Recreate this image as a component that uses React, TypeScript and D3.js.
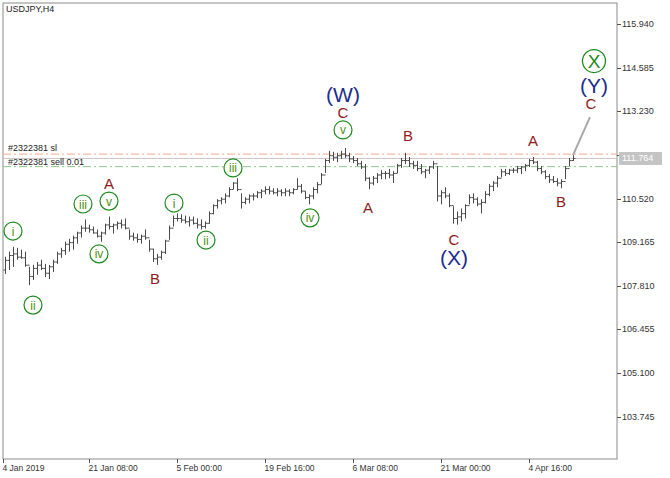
import React, { useEffect } from "react";
import * as d3 from "d3";

// USDJPY H4 (one bar per ~4px of the original)
const highs = [
  108.71, 108.87, 109.02, 108.99, 108.93, 108.87, 108.40, 108.46, 108.55, 108.62,
  108.49, 108.46, 108.62, 108.87, 108.99, 109.18, 109.27, 109.37, 109.49, 109.68,
  109.87, 109.71, 109.65, 109.56, 109.49, 109.74, 109.96, 109.74, 109.81, 109.87,
  109.90, 109.56, 109.46, 109.43, 109.40, 109.56, 109.24, 108.96, 108.80, 108.90,
  109.24, 109.68, 109.99, 110.06, 110.03, 109.99, 109.96, 109.96, 109.90, 109.87,
  109.81, 110.12, 110.34, 110.50, 110.56, 110.68, 110.87, 111.03, 111.15, 110.68,
  110.56, 110.65, 110.68, 110.75, 110.81, 110.90, 110.90, 110.84, 110.84, 110.81,
  110.84, 110.81, 110.84, 111.15, 110.97, 110.75, 110.65, 110.87, 111.03, 111.31,
  111.75, 112.00, 111.97, 111.94, 112.00, 112.09, 111.94, 111.84, 111.78, 111.69,
  111.59, 111.18, 111.22, 111.31, 111.40, 111.37, 111.44, 111.37, 111.59, 111.78,
  111.94, 111.81, 111.69, 111.69, 111.59, 111.44, 111.53, 111.69, 111.53, 110.78,
  110.87, 110.68, 110.28, 110.12, 110.21, 110.34, 110.65, 110.68, 110.56, 110.50,
  110.75, 110.97, 111.06, 111.22, 111.44, 111.44, 111.44, 111.47, 111.53, 111.53,
  111.59, 111.75, 111.81, 111.69, 111.53, 111.40, 111.28, 111.22, 111.15, 111.12,
  111.53, 111.78, 111.87,
];
const lows = [
  108.18, 108.30, 108.40, 108.62, 108.65, 108.40, 107.83, 107.99, 108.15, 108.30,
  108.08, 108.02, 108.24, 108.49, 108.68, 108.77, 108.87, 108.93, 109.12, 109.31,
  109.49, 109.46, 109.43, 109.31, 109.18, 109.40, 109.56, 109.43, 109.56, 109.59,
  109.56, 109.24, 109.21, 109.15, 109.12, 109.24, 108.87, 108.55, 108.46, 108.62,
  108.80, 109.24, 109.65, 109.81, 109.77, 109.74, 109.65, 109.71, 109.59, 109.56,
  109.59, 109.74, 110.03, 110.21, 110.34, 110.37, 110.56, 110.81, 110.75, 110.21,
  110.34, 110.37, 110.46, 110.53, 110.53, 110.65, 110.65, 110.65, 110.59, 110.59,
  110.59, 110.59, 110.65, 110.81, 110.68, 110.50, 110.34, 110.50, 110.68, 110.97,
  111.31, 111.62, 111.69, 111.65, 111.75, 111.78, 111.65, 111.62, 111.53, 111.44,
  111.06, 110.81, 110.93, 111.00, 111.12, 111.12, 111.15, 111.00, 111.31, 111.47,
  111.59, 111.50, 111.44, 111.37, 111.28, 111.15, 111.28, 111.44, 110.43, 110.34,
  110.53, 110.25, 109.74, 109.71, 109.81, 109.90, 110.34, 110.37, 110.28, 110.06,
  110.37, 110.59, 110.75, 110.87, 111.18, 111.22, 111.25, 111.31, 111.31, 111.28,
  111.37, 111.50, 111.59, 111.37, 111.28, 111.12, 111.00, 111.00, 110.90, 110.84,
  111.12, 111.53, 111.69,
];
const closes = [
  108.60, 108.75, 108.80, 108.70, 108.68, 108.45, 108.10, 108.35, 108.45, 108.35,
  108.20, 108.40, 108.55, 108.80, 108.90, 109.10, 109.15, 109.30, 109.45, 109.60,
  109.60, 109.55, 109.45, 109.35, 109.45, 109.70, 109.65, 109.70, 109.75, 109.70,
  109.60, 109.35, 109.30, 109.25, 109.35, 109.30, 108.95, 108.65, 108.70, 108.85,
  109.20, 109.60, 109.90, 109.90, 109.85, 109.80, 109.85, 109.75, 109.70, 109.65,
  109.75, 110.05, 110.30, 110.45, 110.50, 110.60, 110.80, 111.00, 110.80, 110.40,
  110.50, 110.60, 110.60, 110.70, 110.75, 110.80, 110.75, 110.70, 110.75, 110.70,
  110.75, 110.70, 110.80, 110.90, 110.75, 110.55, 110.60, 110.80, 110.95, 111.25,
  111.70, 111.85, 111.80, 111.85, 111.90, 111.85, 111.75, 111.70, 111.60, 111.50,
  111.15, 111.00, 111.15, 111.25, 111.30, 111.30, 111.25, 111.30, 111.55, 111.70,
  111.70, 111.60, 111.55, 111.45, 111.35, 111.40, 111.50, 111.60, 110.60, 110.70,
  110.60, 110.30, 109.90, 109.95, 110.05, 110.30, 110.55, 110.50, 110.35, 110.40,
  110.65, 110.90, 111.00, 111.15, 111.35, 111.30, 111.40, 111.40, 111.45, 111.50,
  111.55, 111.70, 111.65, 111.45, 111.35, 111.20, 111.10, 111.05, 111.00, 111.05,
  111.45, 111.70, 111.764,
];
const firstOpen = 108.3;

const priceTicks = [115.94, 114.585, 113.23, 111.875, 110.52, 109.165, 107.81, 106.455, 105.1, 103.745];
const timeTickBars = [-0.5, 21, 43, 65, 87, 109, 131];
const timeTickLabels = ["4 Jan 2019", "21 Jan 08:00", "5 Feb 00:00", "19 Feb 16:00", "6 Mar 08:00", "21 Mar 00:00", "4 Apr 16:00"];

const bidPrice = 111.764;
const slPrice = 111.9;
const sellPrice = 111.51;

// projection of the last leg
const projection = [
  [142, 111.87],
  [146.25, 113.05],
];

// wave labels: [text, bar, price, kind]
const waveLabels: [string, number, number, string][] = [
  ["i", 2, 109.51, "minor"],
  ["ii", 7, 107.21, "minor"],
  ["iii", 19.5, 110.35, "minor"],
  ["iv", 23.5, 108.8, "minor"],
  ["v", 26, 110.44, "minor"],
  ["A", 26, 111.0, "abc"],
  ["B", 37.5, 108.05, "abc"],
  ["i", 42.25, 110.38, "minor"],
  ["ii", 50.25, 109.23, "minor"],
  ["iii", 57, 111.47, "minor"],
  ["iv", 76.25, 109.92, "minor"],
  ["v", 84.5, 112.65, "minor"],
  ["C", 84.5, 113.19, "abc"],
  ["(W)", 84.5, 113.75, "major"],
  ["A", 90.75, 110.23, "abc"],
  ["B", 100.75, 112.49, "abc"],
  ["C", 112.25, 109.26, "abc"],
  ["(X)", 112.25, 108.7, "major"],
  ["A", 132, 112.31, "abc"],
  ["B", 139, 110.44, "abc"],
  ["C", 146.5, 113.47, "abc"],
  ["(Y)", 147.25, 114.03, "major"],
  ["X", 147.25, 114.79, "circle"],
];

const W = 670;
const H = 478;
const plot = { left: 3, top: 3, right: 617, bottom: 459 };
const font = "'Liberation Sans', Arial, sans-serif";

export default function App() {
  useEffect(() => {
    document.body.style.margin = "0";
  }, []);

  const x = d3.scaleLinear().domain([0, highs.length - 1]).range([5, 573]);
  const y = d3.scaleLinear().domain([103.745, 115.94]).range([416.7, 24]);

  const projLine = d3
    .line<number[]>()
    .x((d) => x(d[0]))
    .y((d) => y(d[1]))(projection);

  const green = "#1f8a1f";
  const red = "#8e1b1b";
  const navy = "#1c2d8c";

  return (
    <svg width={W} height={H} style={{ display: "block", background: "#fff" }} fontFamily={font}>
      <rect x={plot.left} y={plot.top} width={plot.right - plot.left} height={plot.bottom - plot.top} fill="none" stroke="#8a8a8a" />
      <text x={6} y={12} fontSize={9} fill="#222">USDJPY,H4</text>

      {/* order lines */}
      <line x1={plot.left} x2={plot.right} y1={y(slPrice)} y2={y(slPrice)} stroke="#f4a98a" strokeDasharray="8,3,2,3" />
      <line x1={plot.left} x2={plot.right} y1={y(bidPrice)} y2={y(bidPrice)} stroke="#c8c8c8" />
      <line x1={plot.left} x2={plot.right} y1={y(sellPrice)} y2={y(sellPrice)} stroke="#8cc78c" strokeDasharray="8,3,2,3" />
      <text x={8} y={y(slPrice) - 3} fontSize={9} fill="#222">#2322381 sl</text>
      <text x={8} y={y(sellPrice) - 2} fontSize={9} fill="#222">#2322381 sell 0.01</text>

      {/* bars */}
      <g stroke="#4a4a4a" strokeWidth={1}>
        {highs.map((h, i) => {
          const cx = Math.round(x(i)) + 0.5;
          const open = i === 0 ? firstOpen : closes[i - 1];
          return (
            <g key={i}>
              <line x1={cx} x2={cx} y1={y(h)} y2={y(lows[i])} />
              <line x1={cx - 2} x2={cx} y1={y(open)} y2={y(open)} />
              <line x1={cx} x2={cx + 2} y1={y(closes[i])} y2={y(closes[i])} />
            </g>
          );
        })}
      </g>

      <path d={projLine ?? ""} stroke="#a8a8a8" strokeWidth={2} fill="none" />

      {/* wave labels */}
      {waveLabels.map(([t, b, p, kind], i) => {
        const lx = x(b);
        const ly = y(p);
        if (kind === "minor") {
          return (
            <g key={i}>
              <circle cx={lx} cy={ly} r={9} fill="#fff" stroke={green} strokeWidth={1.2} />
              <text x={lx} y={ly + 0.5} fontSize={12} fill="#4f8f12" textAnchor="middle" dominantBaseline="central">{t}</text>
            </g>
          );
        }
        if (kind === "circle") {
          return (
            <g key={i}>
              <circle cx={lx} cy={ly} r={11.5} fill="none" stroke={green} strokeWidth={1.3} />
              <text x={lx} y={ly + 0.5} fontSize={19} fill={green} textAnchor="middle" dominantBaseline="central">{t}</text>
            </g>
          );
        }
        return (
          <text
            key={i}
            x={lx}
            y={ly}
            fontSize={kind === "major" ? 21 : 15}
            fill={kind === "major" ? navy : red}
            textAnchor="middle"
            dominantBaseline="central"
          >
            {t}
          </text>
        );
      })}

      {/* price axis */}
      {priceTicks.map((v) => (
        <g key={v}>
          <line x1={plot.right} x2={plot.right + 4} y1={Math.round(y(v)) + 0.5} y2={Math.round(y(v)) + 0.5} stroke="#555" />
          <text x={plot.right + 5} y={y(v)} fontSize={9} fill="#333" dominantBaseline="central">
            {d3.format(".3f")(v)}
          </text>
        </g>
      ))}
      <rect x={plot.right + 2} y={y(bidPrice) - 6.5} width={43} height={13} fill="#c4c4c4" />
      <text x={plot.right + 5} y={y(bidPrice)} fontSize={9} fill="#fff" dominantBaseline="central">
        {d3.format(".3f")(bidPrice)}
      </text>

      {/* time axis */}
      {timeTickBars.map((b, i) => {
        const tx = Math.round(x(b)) + 0.5;
        return (
          <g key={i}>
            <line x1={tx} x2={tx} y1={plot.bottom} y2={plot.bottom + 4} stroke="#555" />
            <text x={tx - 1} y={471} fontSize={8.5} fill="#333">{timeTickLabels[i]}</text>
          </g>
        );
      })}
    </svg>
  );
}
